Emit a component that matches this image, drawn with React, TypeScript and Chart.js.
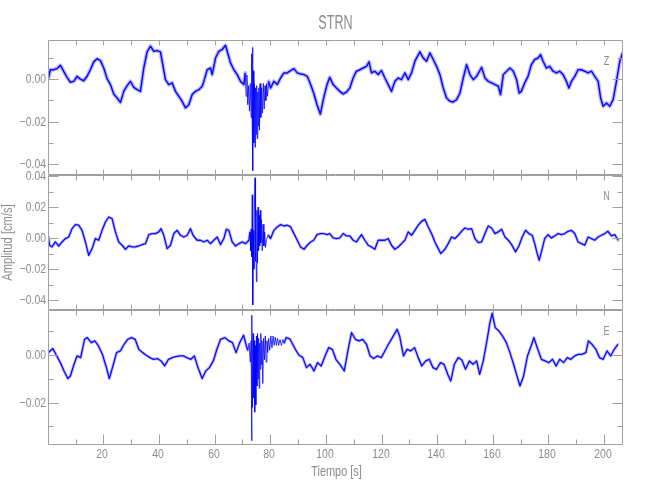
import React, { useEffect, useRef } from 'react';
import { Chart, registerables } from 'chart.js';

Chart.register(...registerables);

// ---------- texts ----------
const TITLE = 'STRN';
const X_TITLE = 'Tiempo [s]';
const Y_TITLE = 'Amplitud [cm/s]';
const CHANNELS = ['Z', 'N', 'E'];

// ---------- axes ----------
const X_MIN = 0.05;
const X_MAX = 206.85;
const X_MINOR_STEP = 10;
const X_LABEL_STEP = 20;
const Y_MINOR_STEP = 0.01;
const Y_LABEL_STEP = 0.02;
const Z_RANGE = [-0.0451, 0.0185];
const N_RANGE = [-0.0463, 0.0408];
const E_RANGE = [-0.0378, 0.0189];

// burst (high-frequency part) time windows per component
const Z_BURST = [70.8, 79.5];
const N_BURST = [72.5, 79.4];
const E_BURST = [71.8, 85.1];

// ---------- data: Z component ----------
const zTime = [
  0.2, 0.9, 2.1, 3.3, 4.5, 5.7, 6.9, 8.1, 9.3, 10.5, 11.7, 12.9, 14.1, 15.3, 16.5, 17.7, 18.9, 20.1, 21.3, 22.5,
  23.7, 24.9, 26.1, 27.3, 28.5, 29.7, 30.9, 32.1, 33.3, 34.5, 35.7, 36.9, 38.1, 39.3, 40.5, 41.1, 42.3, 43.5, 44.7, 45.9,
  47.1, 48.3, 49.5, 50.7, 51.9, 53.1, 54.3, 55.5, 56.1, 57.3, 58.5, 59.1, 60.3, 61.5, 62.7, 63.9, 64.5, 65.7, 66.9, 68.1,
  69.3, 70.5,
  71.0, 71.3, 71.6, 71.9, 72.2, 72.5, 72.8, 73.1, 73.3, 73.5, 73.6, 73.75, 73.9, 74.1, 74.3, 74.5, 74.7, 74.9, 75.1, 75.3,
  75.5, 75.7, 75.9, 76.1, 76.3, 76.6, 76.9, 77.2, 77.5, 77.8, 78.1, 78.4, 78.7, 79.0, 79.4,
  80.1, 81.3, 82.5, 83.7, 84.9, 86.1, 87.3, 88.5, 89.7, 90.9, 92.1, 93.3, 94.5, 95.6, 96.8, 98.0, 99.2, 100.4, 101.4,
  102.6, 103.8, 105.0, 106.2, 107.4, 108.6, 109.8, 111.0, 112.2, 113.4, 114.6, 115.5, 116.4, 117.6, 118.8, 120.0, 121.2,
  122.4, 123.6, 124.8, 126.0, 127.2, 128.4, 129.6, 130.8, 132.0, 133.8, 135.0, 136.2, 137.4, 138.6, 139.8, 141.0, 142.2,
  143.4, 144.6, 145.8, 147.0, 148.2, 149.4, 150.6, 151.8, 153.0, 154.2, 156.0, 157.2, 158.4, 159.6, 160.8, 162.0, 162.8,
  163.8, 165.0, 166.2, 167.4, 168.6, 169.5, 170.3, 171.5, 172.7, 173.9, 175.1, 176.3, 177.2, 178.1, 179.3, 180.5, 181.7,
  182.9, 184.1, 185.3, 186.5, 187.4, 188.3, 189.5, 190.7, 191.9, 193.1, 194.3, 195.5, 196.7, 197.9, 198.8, 199.7, 200.9,
  202.1, 203.3, 204.5, 205.7, 206.7,
];
const zAmp = [
  0.0006, 0.0045, 0.0045, 0.005, 0.0066, 0.0037, 0.0009, -0.0014, -0.001, 0.0014, 0.0001, -0.0007, 0.0014, 0.0045, 0.0082, 0.0097, 0.0088, 0.0053, 0.0003, -0.0025,
  -0.0069, -0.0088, -0.0109, -0.0057, -0.003, -0.001, -0.0038, -0.0049, -0.0057, 0.0053, 0.0129, 0.0156, 0.0132, 0.0135, 0.0129, 0.0085, -0.0002, -0.0025, -0.0017, -0.0057,
  -0.008, -0.0104, -0.0135, -0.012, -0.0072, -0.0057, -0.0049, -0.0033, -0.001, 0.0045, 0.0053, 0.0022, 0.01, 0.0132, 0.014, 0.016, 0.0132, 0.0077, 0.0045, 0.0022,
  -0.001, -0.0025,
  0.003, -0.008, 0.002, -0.012, -0.003, -0.015, -0.002, -0.018, 0.012, -0.022, 0.015, -0.043, 0.004, -0.03, -0.002, -0.032, -0.004, -0.026, -0.003, -0.028,
  -0.006, -0.022, -0.004, -0.024, -0.002, -0.018, -0.004, -0.016, -0.002, -0.014, -0.003, -0.01, -0.002, -0.008, -0.001,
  -0.0041, -0.001, -0.0025, 0.0006, 0.003, 0.003, 0.0041, 0.005, 0.003, 0.0025, 0.0022, 0.0014, -0.0025, -0.0065, -0.012, -0.0164, -0.0088, -0.0025, 0.0009,
  -0.0025, -0.0041, -0.0057, -0.0069, -0.006, -0.0041, 0.0006, 0.0038, 0.0045, 0.0053, 0.0061, 0.0082, 0.003, 0.0038, 0.0022, 0.0041, 0.0006,
  -0.0025, -0.0057, -0.001, 0.0006, -0.0002, 0.003, -0.0002, 0.003, 0.0085, 0.0129, 0.01, 0.0085, 0.0124, 0.0093, 0.0061, 0.0022, -0.0041,
  -0.0088, -0.0104, -0.0107, -0.0096, -0.0065, 0.0006, 0.0069, 0.0022, -0.0002, 0.0014, 0.0056, 0.0006, -0.001, -0.0017, -0.0025, -0.0033, -0.0072,
  0.0022, 0.0038, 0.0053, 0.0038, -0.0002, -0.0065, -0.0057, -0.0017, 0.0014, 0.0069, 0.0093, 0.01, 0.0116, 0.0085, 0.0053, 0.0061, 0.0038,
  0.003, 0.0038, 0.0022, -0.001, -0.0041, -0.001, 0.0014, 0.0045, 0.0045, 0.0038, 0.003, 0.0038, 0.0014, -0.001, -0.0088, -0.0127, -0.0112,
  -0.0127, -0.0096, -0.001, 0.0085, 0.0124,
];

// ---------- data: N component ----------
const nTime = [
  0.2, 0.6, 1.5, 2.7, 3.9, 5.1, 6.3, 7.5, 8.7, 9.9, 11.1, 12.3, 13.5, 14.7, 15.9, 17.1, 18.3, 19.5, 20.7, 21.9,
  23.1, 24.3, 25.5, 26.7, 27.9, 29.1, 30.3, 31.5, 32.7, 33.9, 35.1, 36.3, 37.5, 38.7, 39.9, 40.7, 41.7, 42.9, 44.1, 45.3,
  46.5, 47.7, 48.9, 50.1, 51.3, 52.2, 53.7, 54.9, 56.1, 57.3, 58.5, 59.7, 60.9, 62.1, 63.3, 64.2, 65.1, 66.3, 67.5, 68.7,
  69.9, 71.1, 72.3,
  72.7, 72.9, 73.1, 73.3, 73.5, 73.7, 73.9, 74.1, 74.3, 74.5, 74.6, 74.8, 75.0, 75.2, 75.4, 75.6, 75.8, 76.0, 76.2, 76.4,
  76.6, 76.8, 77.1, 77.4, 77.7, 78.0, 78.3, 78.6, 79.3,
  80.1, 81.3, 82.5, 83.7, 84.9, 86.1, 87.3, 88.5, 89.7, 90.9, 92.1, 93.3, 94.5, 95.6, 96.8, 98.0, 99.2, 100.4, 101.4,
  102.6, 103.8, 105.0, 106.2, 107.4, 108.6, 109.8, 111.0, 112.8, 114.0, 115.2, 116.4, 117.6, 118.8, 120.0, 121.2, 122.4,
  123.6, 124.8, 126.0, 127.2, 128.4, 129.6, 130.8, 132.0, 133.2, 134.4, 135.6, 136.8, 138.0, 139.2, 140.4, 141.3, 142.8,
  144.0, 145.2, 146.4, 147.6, 148.8, 150.0, 151.2, 152.4, 153.6, 154.8, 156.0, 157.2, 158.4, 159.6, 160.8, 162.0, 163.2,
  164.4, 165.6, 166.8, 168.2, 169.4, 170.6, 171.8, 173.0, 174.2, 175.1, 176.0, 176.7, 177.5, 178.7, 179.9, 181.1, 182.3,
  183.5, 184.7, 185.9, 187.1, 188.3, 189.5, 190.7, 191.9, 193.1, 194.3, 195.5, 196.7, 197.9, 199.1, 200.3, 201.4, 202.7,
  203.9, 205.1,
];
const nAmp = [
  0.0008, -0.0045, -0.0056, -0.0024, -0.005, -0.0024, -0.0002, 0.0008, 0.0062, 0.0088, 0.0084, 0.0051, -0.0024, -0.011, -0.0067, -0.0002, -0.0013, 0.0051, 0.0105, 0.0137,
  0.0127, 0.0041, -0.0024, -0.0045, -0.0071, -0.005, -0.0056, -0.0056, -0.005, -0.0041, -0.0035, 0.0023, 0.003, 0.003, 0.0041, 0.0062, 0.0019, -0.0067, -0.0045, 0.003,
  0.0051, 0.0019, 0.0008, 0.0019, 0.0062, 0.0019, -0.0013, -0.0013, -0.0024, -0.0013, -0.0035, -0.0013, 0.0008, -0.0041, -0.0002, 0.0058, 0.0051, -0.0024, -0.005, -0.0035,
  -0.0024, -0.0035, -0.0013,
  0.004, -0.008, 0.006, -0.012, 0.028, -0.043, 0.005, -0.02, 0.022, 0.039, -0.015, 0.025, -0.028, 0.018, -0.016, 0.02, -0.008, 0.015, -0.005, 0.018,
  -0.003, 0.012, -0.008, 0.009, -0.005, 0.004, -0.006, -0.001, 0.002,
  -0.0002, 0.0051, 0.0073, 0.0088, 0.0079, 0.0084, 0.0073, 0.003, -0.0013, -0.0056, -0.0071, -0.0045, -0.0024, -0.0013, 0.0023, 0.003, 0.003, 0.0023, 0.003,
  0.0002, -0.0002, 0.0002, 0.003, 0.0015, 0.0015, -0.0013, -0.0024, 0.0023, -0.0013, -0.0045, -0.0056, -0.0071, -0.0013, -0.0013, -0.0013, -0.0002,
  -0.0045, -0.0071, -0.0056, -0.0035, -0.0013, 0.0041, 0.0019, 0.0051, 0.0084, 0.0109, 0.0122, 0.0073, 0.003, -0.0024, -0.0067, -0.0099, -0.0071,
  -0.0035, 0.0008, -0.0002, 0.0019, 0.0045, 0.0066, 0.0058, 0.0062, -0.0002, -0.0028, -0.0024, 0.003, 0.0079, 0.0066, 0.003, 0.0041, 0.0058,
  0.0008, -0.0013, -0.0041, -0.0088, -0.005, 0.0008, 0.0051, 0.003, 0.0019, -0.0035, -0.0099, -0.0142, -0.0088, -0.0002, 0.0023, 0.0002, 0.0015,
  0.003, 0.0023, 0.003, 0.0045, 0.0051, 0.003, -0.0024, -0.0035, -0.0045, 0.0008, -0.0002, -0.0013, 0.0008, 0.0019, 0.003, 0.0045, 0.0015,
  0.0023, -0.0013,
];

// ---------- data: E component ----------
const eTime = [
  0.2, 1.8, 3.2, 4.5, 5.8, 7.2, 8.1, 9.2, 10.5, 11.8, 13.2, 14.2, 15.6, 16.9, 18.2, 19.6, 20.9, 22.1, 23.4, 24.7,
  26.1, 27.4, 28.7, 30.1, 31.4, 32.7, 34.1, 35.4, 36.7, 38.0, 39.4, 40.7, 42.0, 43.4, 44.7, 46.0, 47.4, 48.7, 50.0, 51.4,
  52.7, 54.0, 55.5, 56.8, 58.1, 59.5, 60.8, 62.1, 63.7, 65.1, 66.4, 67.7, 69.0, 70.4, 71.4,
  71.9, 72.4, 72.8, 73.1, 73.3, 73.4, 73.6, 73.8, 74.0, 74.2, 74.4, 74.6, 74.8, 75.0, 75.2, 75.4, 75.6, 75.8, 76.0, 76.2,
  76.4, 76.6, 76.8, 77.0, 77.3, 77.6, 77.9, 78.2, 78.5, 78.8, 79.1, 79.4, 79.8, 80.2, 80.6, 81.0, 81.4, 81.8, 82.2, 82.6,
  83.0, 83.5, 84.0, 84.5, 85.0,
  85.7, 87.0, 89.0, 90.3, 91.7, 93.0, 94.3, 95.7, 97.0, 98.3, 99.7, 101.0, 102.3, 103.6, 105.0, 106.6, 107.9, 109.2, 110.6,
  111.9, 113.2, 114.6, 115.9, 117.2, 118.5, 119.9, 121.2, 122.5, 123.9, 125.6, 126.5, 127.9, 129.2, 130.5, 131.9, 133.2,
  134.5, 135.9, 137.2, 138.5, 139.8, 141.2, 142.5, 143.8, 144.9, 146.2, 147.6, 148.9, 150.2, 151.6, 152.9, 154.2, 155.3,
  156.6, 157.9, 159.0, 159.8, 160.9, 162.2, 163.5, 164.9, 166.2, 167.5, 168.9, 169.8, 171.1, 172.5, 173.8, 174.8, 176.2,
  177.5, 178.8, 180.2, 181.5, 182.8, 184.1, 185.5, 186.8, 188.1, 189.5, 190.8, 192.1, 193.5, 194.4, 195.7, 197.1, 198.4,
  199.7, 201.1, 202.4, 203.7, 205.0,
];
const eAmp = [
  0.001, 0.0027, -0.0004, -0.0032, -0.0067, -0.0099, -0.0088, -0.0046, -0.0004, -0.0011, 0.0066, 0.0073, 0.0052, 0.0059, 0.0038, 0.0003, -0.0046, -0.0099, -0.0046, 0.001,
  0.0017, 0.0045, 0.0066, 0.0073, 0.0066, 0.0024, 0.001, -0.0001, -0.0011, -0.0018, -0.0015, -0.0025, -0.0046, -0.0018, -0.0011, -0.0007, -0.0004, -0.0004, -0.0011, -0.0018,
  -0.0004, -0.0053, -0.0099, -0.0067, -0.0053, -0.0025, 0.0024, 0.0066, 0.0073, 0.0059, 0.0052, 0.001, 0.0052, 0.0083, 0.0038,
  0.002, 0.005, -0.003, 0.006, -0.036, 0.0167, -0.022, 0.009, -0.018, 0.006, -0.024, 0.004, -0.021, 0.008, -0.013, 0.009, -0.01, 0.007, -0.014, 0.005,
  -0.006, 0.009, -0.004, 0.006, -0.012, 0.007, -0.002, 0.008, -0.003, 0.006, 0.001, 0.007, 0.002, 0.008, 0.003, 0.008, 0.004, 0.0075, 0.004, 0.007,
  0.004, 0.0065, 0.004, 0.0065, 0.005,
  0.0073, 0.0068, 0.0024, 0.0, -0.0011, -0.0053, -0.0039, -0.0067, -0.0032, -0.0046, -0.0004, 0.0031, 0.0024, -0.0018, -0.0039, -0.0067, 0.0017, 0.0094, 0.0066,
  0.0059, 0.0066, 0.0045, -0.0004, -0.0015, -0.0004, -0.0011, 0.0017, 0.0045, 0.0073, 0.0108, 0.008, -0.0004, 0.0024, 0.0017, 0.0031, -0.0011,
  -0.0046, -0.0025, -0.0018, -0.0053, -0.006, -0.0032, -0.0039, -0.0081, -0.0109, -0.0039, -0.0011, -0.0021, -0.006, -0.0025, -0.0039, -0.0025, -0.0081,
  -0.0025, 0.0059, 0.0136, 0.0175, 0.0115, 0.0101, 0.008, 0.0052, 0.001, -0.0039, -0.0095, -0.013, -0.0088, -0.0004, 0.0038, 0.0073, 0.0024,
  -0.0018, -0.0025, -0.0032, -0.0018, -0.0046, -0.0018, -0.0032, -0.0011, -0.0018, -0.0004, 0.0003, 0.0003, 0.001, 0.0059, 0.0045, 0.0024, -0.0011,
  -0.0018, 0.0017, -0.0004, 0.0024, 0.0045,
];

// ---------- style ----------
const LINE_COLOR = '#0000ff';
const HALO_COLOR = 'rgba(30, 30, 255, 0.30)';
const AXIS_COLOR = '#a0a0a0';
const TEXT_COLOR = '#8c8c8c';
const FONT = "'Liberation Sans', Arial, sans-serif";
const TRACE_WIDTH = [1.5, 1.3, 1.3];
const HALO_WIDTH = [4, 3, 3];
const BURST_WIDTH = 0.8;

const toPoints = (t: number[], a: number[]) => t.map((x, i) => ({ x, y: a[i] }));

function drawText(ctx: CanvasRenderingContext2D, text: string, x: number, y: number, size: number, sx: number, align: CanvasTextAlign, angle = 0) {
  ctx.save();
  ctx.translate(x, y);
  if (angle) ctx.rotate(angle);
  ctx.scale(sx, 1);
  ctx.font = `${size}px ${FONT}`;
  ctx.textAlign = align;
  ctx.textBaseline = 'middle';
  ctx.fillStyle = TEXT_COLOR;
  ctx.fillText(text, 0, 0);
  ctx.restore();
}

const fmt = (v: number) => {
  const s = Math.abs(v).toFixed(2);
  return v < -1e-9 ? '\u2212' + s : s;
};

const framePlugin = {
  id: 'idlFrame',
  afterDraw(chart: any) {
    const ctx: CanvasRenderingContext2D = chart.ctx;
    const area = chart.chartArea;
    const xs = chart.scales.x;
    const panels = [chart.scales.yZ, chart.scales.yN, chart.scales.yE];
    ctx.save();
    ctx.strokeStyle = AXIS_COLOR;
    ctx.lineWidth = 1;
    const L = Math.round(area.left) + 0.5;
    const R = Math.round(area.right) - 0.5;
    panels.forEach((ys: any, pi: number) => {
      const T = Math.round(ys.top) + 0.5;
      const B = Math.round(ys.bottom) - 0.5;
      ctx.beginPath();
      ctx.rect(L, T, R - L, B - T);
      ctx.stroke();
      ys.ticks.forEach((tk: any) => {
        const v = tk.value;
        if (v < ys.min - 1e-9 || v > ys.max + 1e-9) return;
        const k = Math.round(v / Y_MINOR_STEP);
        const major = Math.abs(k) % Math.round(Y_LABEL_STEP / Y_MINOR_STEP) === 0;
        const len = major ? 10 : 5;
        const py = Math.round(ys.getPixelForValue(v)) + 0.5;
        ctx.beginPath();
        ctx.moveTo(L, py); ctx.lineTo(L + len, py);
        ctx.moveTo(R, py); ctx.lineTo(R - len, py);
        ctx.stroke();
        if (major) drawText(ctx, fmt(k * Y_MINOR_STEP), area.left - 2, py, 13, 0.8, 'right');
      });
      xs.ticks.forEach((tk: any) => {
        const v = tk.value;
        if (v < xs.min || v > xs.max) return;
        const major = Math.round(v) % X_LABEL_STEP === 0;
        const px = Math.round(xs.getPixelForValue(v)) + 0.5;
        const lenTop = 5;
        const lenBot = pi === panels.length - 1 ? (major ? 10 : 5) : 5;
        ctx.beginPath();
        ctx.moveTo(px, T); ctx.lineTo(px, T + lenTop);
        ctx.moveTo(px, B); ctx.lineTo(px, B - lenBot);
        ctx.stroke();
        if (pi === panels.length - 1 && major) drawText(ctx, String(Math.round(v)), px - 1.5, ys.bottom + 9, 13, 0.8, 'center');
      });
      drawText(ctx, CHANNELS[pi], area.right - 16.5, ys.top + 21, 13, 0.7, 'center');
    });
    const cx = (area.left + area.right) / 2;
    drawText(ctx, TITLE, cx, 23.5, 20, 0.63, 'center');
    drawText(ctx, X_TITLE, cx + 1, area.bottom + 27, 14, 0.78, 'center');
    const mid = chart.scales.yN;
    drawText(ctx, Y_TITLE, 8.5, (mid.top + mid.bottom) / 2, 14, 0.8, 'center', -Math.PI / 2);
    ctx.restore();
  },
};

const inBurst = (range: number[], c: any) => c.p0.parsed.x >= range[0] && c.p1.parsed.x <= range[1];

const yScale = (range: number[]) => ({
  type: 'linear' as const,
  position: 'left' as const,
  stack: 'panels',
  stackWeight: 1,
  min: range[0],
  max: range[1],
  ticks: { display: false, stepSize: Y_MINOR_STEP, includeBounds: false },
  grid: { display: false },
  border: { display: false },
  afterFit: (s: any) => { s.width = 40; },
});

export default function App() {
  const ref = useRef<HTMLCanvasElement>(null);
  useEffect(() => {
    const halo = (t: number[], a: number[], axis: string, w: number, burst: number[]) => ({
      data: toPoints(t, a),
      yAxisID: axis,
      borderColor: HALO_COLOR,
      borderWidth: w,
      borderJoinStyle: 'round' as const,
      borderCapStyle: 'round' as const,
      pointRadius: 0,
      tension: 0,
      fill: false,
      segment: { borderColor: (c: any) => (inBurst(burst, c) ? 'rgba(0,0,0,0)' : HALO_COLOR) },
    });
    const core = (t: number[], a: number[], axis: string, w: number, burst: number[]) => ({
      data: toPoints(t, a),
      yAxisID: axis,
      borderColor: LINE_COLOR,
      borderWidth: w,
      borderJoinStyle: 'round' as const,
      pointRadius: 0,
      tension: 0,
      fill: false,
      segment: { borderWidth: (c: any) => (inBurst(burst, c) ? BURST_WIDTH : w) },
    });
    const chart = new Chart(ref.current as HTMLCanvasElement, {
      type: 'line',
      data: {
        datasets: [
          halo(zTime, zAmp, 'yZ', HALO_WIDTH[0], Z_BURST),
          halo(nTime, nAmp, 'yN', HALO_WIDTH[1], N_BURST),
          halo(eTime, eAmp, 'yE', HALO_WIDTH[2], E_BURST),
          core(zTime, zAmp, 'yZ', TRACE_WIDTH[0], Z_BURST),
          core(nTime, nAmp, 'yN', TRACE_WIDTH[1], N_BURST),
          core(eTime, eAmp, 'yE', TRACE_WIDTH[2], E_BURST),
        ],
      },
      options: {
        responsive: false,
        animation: false,
        devicePixelRatio: 1,
        layout: { padding: { left: 8, right: 27, top: 40, bottom: 15 } },
        plugins: { legend: { display: false }, tooltip: { enabled: false }, title: { display: false } },
        events: [],
        scales: {
          x: {
            type: 'linear',
            min: X_MIN,
            max: X_MAX,
            ticks: { display: false, stepSize: X_MINOR_STEP, includeBounds: false },
            grid: { display: false },
            border: { display: false },
            afterFit: (s: any) => { s.height = 40; },
          },
          yE: yScale(E_RANGE),
          yN: yScale(N_RANGE),
          yZ: yScale(Z_RANGE),
        } as any,
      },
      plugins: [framePlugin],
    } as any);
    return () => chart.destroy();
  }, []);
  return (
    <div style={{ position: 'absolute', left: 0, top: 0, width: 650, height: 500, background: '#ffffff' }}>
      <canvas ref={ref} width={650} height={500} style={{ display: 'block', width: 650, height: 500 }} />
    </div>
  );
}
